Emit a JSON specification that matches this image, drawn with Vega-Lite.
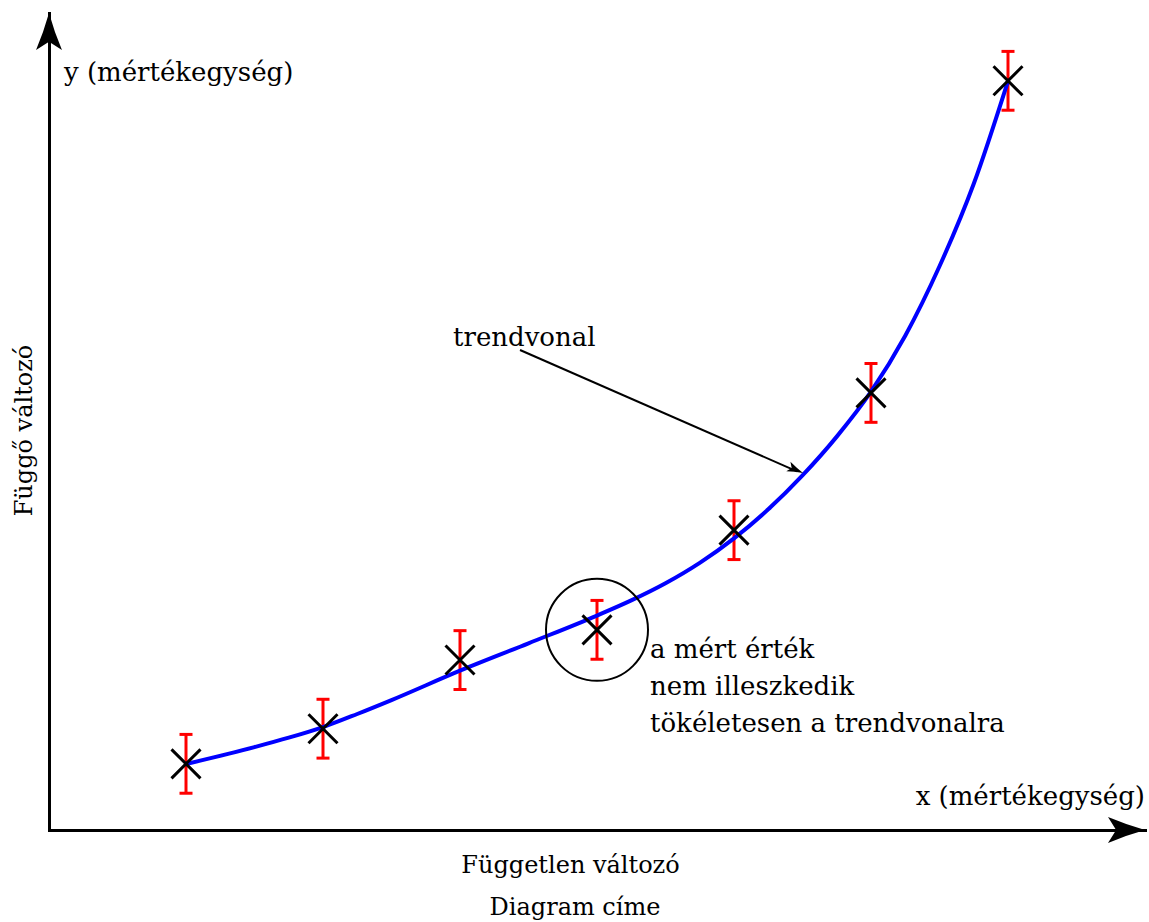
{
  "$schema": "https://vega.github.io/schema/vega-lite/v6.json",
  "width": 1096,
  "height": 817,
  "autosize": {"type": "none"},
  "padding": {"left": 49, "top": 13, "right": 4, "bottom": 92},
  "background": "white",
  "config": {
    "view": {"stroke": null},
    "font": "DejaVu Serif",
    "axisX": {"domain": true, "domainColor": "black", "domainWidth": 3, "domainCap": "square", "ticks": false, "labels": false, "grid": false,
      "titleFont": "DejaVu Serif", "titleFontSize": 24, "titleFontWeight": "normal", "titleColor": "black", "titleX": 521, "titleY": 42, "titleBaseline": "alphabetic", "titleAlign": "center", "titleAnchor": null},
    "axisY": {"domain": true, "domainColor": "black", "domainWidth": 3, "domainCap": "square", "ticks": false, "labels": false, "grid": false,
      "titleFont": "DejaVu Serif", "titleFontSize": 24, "titleFontWeight": "normal", "titleColor": "black", "titleAngle": -90, "titleX": -18, "titleY": 417, "titleBaseline": "alphabetic", "titleAlign": "center", "titleAnchor": null}
  },
  "title": {"text": "Diagram címe", "orient": "bottom", "font": "DejaVu Serif", "fontSize": 24, "fontWeight": "normal", "color": "black", "dx": -22, "offset": 19},
  "datasets": {
    "curve": [
      {"x": 1.0, "y": 0.808},
      {"x": 1.5, "y": 1.015},
      {"x": 1.75, "y": 1.13},
      {"x": 2.0, "y": 1.26},
      {"x": 2.25, "y": 1.42},
      {"x": 2.5, "y": 1.59},
      {"x": 3.0, "y": 1.95},
      {"x": 3.5, "y": 2.285},
      {"x": 4.0, "y": 2.625},
      {"x": 4.25, "y": 2.81},
      {"x": 4.5, "y": 3.02},
      {"x": 4.75, "y": 3.27},
      {"x": 5.0, "y": 3.57},
      {"x": 5.25, "y": 3.925},
      {"x": 5.5, "y": 4.34},
      {"x": 5.75, "y": 4.815},
      {"x": 6.0, "y": 5.365},
      {"x": 6.25, "y": 6.05},
      {"x": 6.5, "y": 6.9},
      {"x": 6.75, "y": 7.91},
      {"x": 7.0, "y": 9.168}
    ],
    "measured": [
      {"x": 1, "y": 0.81, "lo": 0.45, "hi": 1.17},
      {"x": 2, "y": 1.24, "lo": 0.88, "hi": 1.6},
      {"x": 3, "y": 2.08, "lo": 1.72, "hi": 2.44},
      {"x": 4, "y": 2.45, "lo": 2.09, "hi": 2.81},
      {"x": 5, "y": 3.67, "lo": 3.31, "hi": 4.03},
      {"x": 6, "y": 5.35, "lo": 4.99, "hi": 5.71},
      {"x": 7, "y": 9.17, "lo": 8.81, "hi": 9.53}
    ]
  },
  "layer": [
    {
      "data": {"name": "measured"},
      "mark": {"type": "rule", "color": "#ff0000", "strokeWidth": 3},
      "encoding": {
        "x": {"field": "x", "type": "quantitative", "title": "Független változó", "scale": {"domain": [0, 8], "nice": false, "zero": false}},
        "y": {"field": "lo", "type": "quantitative", "title": "Függő változó", "scale": {"domain": [0, 10], "nice": false, "zero": false}},
        "y2": {"field": "hi", "title": "Függő változó"}
      }
    },
    {
      "data": {"name": "measured"},
      "mark": {"type": "tick", "orient": "horizontal", "color": "#ff0000", "size": 13, "thickness": 3, "opacity": 1},
      "encoding": {
        "x": {"field": "x", "type": "quantitative", "title": "Független változó"},
        "y": {"field": "lo", "type": "quantitative", "title": "Függő változó"}
      }
    },
    {
      "data": {"name": "measured"},
      "mark": {"type": "tick", "orient": "horizontal", "color": "#ff0000", "size": 13, "thickness": 3, "opacity": 1},
      "encoding": {
        "x": {"field": "x", "type": "quantitative", "title": "Független változó"},
        "y": {"field": "hi", "type": "quantitative", "title": "Függő változó"}
      }
    },
    {
      "data": {"name": "curve"},
      "mark": {"type": "line", "color": "#0000ff", "strokeWidth": 4, "interpolate": "monotone"},
      "encoding": {
        "x": {"field": "x", "type": "quantitative", "title": "Független változó"},
        "y": {"field": "y", "type": "quantitative", "title": "Függő változó"}
      }
    },
    {
      "data": {"name": "measured"},
      "mark": {"type": "point", "shape": "M-1,-1L1,1M-1,1L1,-1", "size": 841, "filled": false, "stroke": "black", "strokeWidth": 3, "opacity": 1},
      "encoding": {
        "x": {"field": "x", "type": "quantitative", "title": "Független változó"},
        "y": {"field": "y", "type": "quantitative", "title": "Függő változó"}
      }
    },
    {
      "data": {"values": [{"x": 4, "y": 2.45}]},
      "mark": {"type": "point", "shape": "circle", "size": 10404, "filled": false, "stroke": "black", "strokeWidth": 2, "opacity": 1},
      "encoding": {
        "x": {"field": "x", "type": "quantitative", "title": "Független változó"},
        "y": {"field": "y", "type": "quantitative", "title": "Függő változó"}
      }
    },
    {
      "data": {"values": [{"x": 3.438, "y": 5.875, "x2": 5.46, "y2": 4.39}]},
      "mark": {"type": "rule", "color": "black", "strokeWidth": 2},
      "encoding": {
        "x": {"field": "x", "type": "quantitative", "title": "Független változó"},
        "y": {"field": "y", "type": "quantitative", "title": "Függő változó"},
        "x2": {"field": "x2", "title": "Független változó"},
        "y2": {"field": "y2", "title": "Függő változó"}
      }
    },
    {
      "data": {"values": [{"x": 5.504, "y": 4.37}]},
      "mark": {"type": "point", "shape": "M0,0Q-1,-0.25,-2,-0.65L-1.55,0L-2,0.65Q-1,0.25,0,0Z", "size": 256, "filled": true, "color": "black", "opacity": 1, "angle": 23.5},
      "encoding": {
        "x": {"field": "x", "type": "quantitative", "title": "Független változó"},
        "y": {"field": "y", "type": "quantitative", "title": "Függő változó"}
      }
    },
    {
      "data": {"values": [{"x": 8, "y": 0}]},
      "mark": {"type": "point", "shape": "M0,0Q-1,-0.28,-2,-0.7L-1.56,0L-2,0.7Q-1,0.28,0,0Z", "size": 1369, "filled": true, "color": "black", "opacity": 1, "angle": 0},
      "encoding": {
        "x": {"field": "x", "type": "quantitative", "title": "Független változó"},
        "y": {"field": "y", "type": "quantitative", "title": "Függő változó"}
      }
    },
    {
      "data": {"values": [{"x": 0, "y": 10}]},
      "mark": {"type": "point", "shape": "M0,0Q-1,-0.28,-2,-0.7L-1.56,0L-2,0.7Q-1,0.28,0,0Z", "size": 1369, "filled": true, "color": "black", "opacity": 1, "angle": -90},
      "encoding": {
        "x": {"field": "x", "type": "quantitative", "title": "Független változó"},
        "y": {"field": "y", "type": "quantitative", "title": "Függő változó"}
      }
    },
    {
      "data": {"values": [
        {"x": 2.949, "y": 5.924, "label": "trendvonal"},
        {"x": 4.387, "y": 2.105, "label": "a mért érték"},
        {"x": 4.387, "y": 1.652, "label": "nem illeszkedik"},
        {"x": 4.387, "y": 1.2, "label": "tökéletesen a trendvonalra"},
        {"x": 0.109, "y": 9.17, "label": "y (mértékegység)"}
      ]},
      "mark": {"type": "text", "align": "left", "baseline": "alphabetic", "font": "DejaVu Serif", "fontSize": 26, "color": "black"},
      "encoding": {
        "x": {"field": "x", "type": "quantitative", "title": "Független változó"},
        "y": {"field": "y", "type": "quantitative", "title": "Függő változó"},
        "text": {"field": "label"}
      }
    },
    {
      "data": {"values": [{"x": 8, "y": 0.306, "label": "x (mértékegység)"}]},
      "mark": {"type": "text", "align": "right", "baseline": "alphabetic", "font": "DejaVu Serif", "fontSize": 26, "color": "black"},
      "encoding": {
        "x": {"field": "x", "type": "quantitative", "title": "Független változó"},
        "y": {"field": "y", "type": "quantitative", "title": "Függő változó"},
        "text": {"field": "label"}
      }
    }
  ]
}
